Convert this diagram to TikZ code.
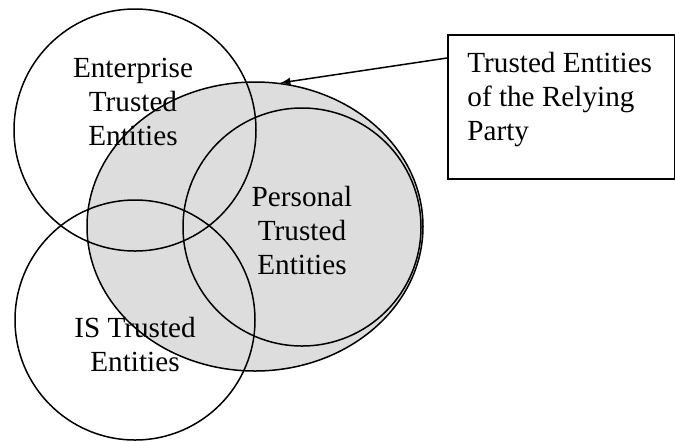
\documentclass[tikz,border=0pt]{standalone}
\usepackage{fontspec}
\setmainfont{Liberation Serif}
\usetikzlibrary{shapes.geometric}
\definecolor{shade}{HTML}{DDDDDD}

\begin{document}
\begin{tikzpicture}[x=0.5pt, y=-0.5pt,
    ring/.style={circle, draw=black, line width=0.75pt, inner sep=0pt},
    setlabel/.style={font=\fontsize{14.6}{17}\selectfont, align=center, inner sep=0pt},
    callout/.style={rectangle, draw=black, line width=0.75pt, anchor=north west,
      minimum width=113.5pt, minimum height=72pt, inner sep=0pt},
    arrow/.style={->, >=latex, line width=0.75pt},
  ]
  \useasboundingbox (0,0) rectangle (675,441);

  % shaded set first, outlines on top
  \node[ellipse, draw=black, fill=shade, line width=0.75pt, inner sep=0pt,
        minimum width=168pt, minimum height=144.5pt] (rp) at (255,226.5) {};
  \node[ring, minimum size=121pt] (ent) at (135,130) {};
  \node[ring, minimum size=120pt] (is)  at (135,320) {};
  \node[ring, minimum size=119pt] (per) at (302,227) {};

  \node[setlabel] (entlbl) at (133,102) {Enterprise\\Trusted\\Entities};
  \node[setlabel] (perlbl) at (302,231) {Personal\\Trusted\\Entities};
  \node[setlabel] (islbl)  at (135,345) {IS Trusted\\Entities};

  \node[callout] (box) at (447,34) {};
  \node[setlabel, align=left, anchor=west] (boxlbl) at (467,100)
    {Trusted Entities\\of the Relying\\Party};
  \coordinate (tail) at (447,58);
  \draw[arrow] (tail) -- (rp.80);
\end{tikzpicture}
\end{document}
